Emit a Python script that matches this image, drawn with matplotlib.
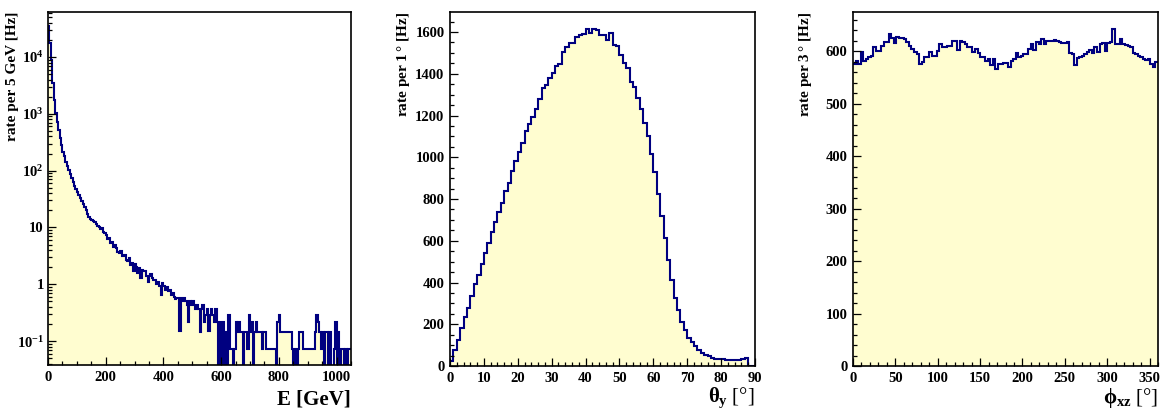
import numpy as np
import matplotlib
matplotlib.use("Agg")
import matplotlib.pyplot as plt
from matplotlib.ticker import MultipleLocator, FixedLocator, FixedFormatter, LogLocator, NullFormatter

plt.rcParams['font.family'] = ['Liberation Serif', 'DejaVu Serif']
plt.rcParams['font.weight'] = 'bold'
plt.rcParams['mathtext.fontset'] = 'custom'
plt.rcParams['mathtext.rm'] = 'Liberation Serif'
plt.rcParams['mathtext.it'] = 'Liberation Serif'
plt.rcParams['mathtext.bf'] = 'Liberation Serif:bold'

# energy spectrum, 5 GeV bins, 0..1050 GeV  (rate in Hz)
e_head = [35500, 17800, 8900, 3550, 1780, 1050, 708, 525, 380, 282,
          214, 178, 141, 120, 102, 89, 74, 63, 54, 47,
          42, 37, 33, 29.5, 25.7, 22.9, 20, 17.4, 15.5, 14.1,
          13.5, 12.9, 12.3, 11.5, 10.7, 10.0, 9.5, 9.8, 8.2, 7.9,
          7.4, 6.3, 6.5, 5.4, 5.6, 4.6, 4.9, 4.4, 3.7, 3.6,
          3.9, 3.2, 3.1, 3.3, 2.7, 2.6, 2.9, 2.2, 2.4, 1.7,
          2.3, 2.0, 1.6, 1.9, 1.3, 1.8, 1.7, 1.7, 1.4, 1.1,
          1.4, 1.5, 1.3, 1.2, 1.2, 1.0, 1.1, 0.95, 0.65, 1.05,
          0.95, 0.8, 0.88, 0.75, 0.8, 0.65, 0.7, 0.6, 0.55, 0.58,
          0.58, 0.15, 0.58, 0.51, 0.58, 0.51, 0.44, 0.22, 0.51, 0.44,
          0.51, 0.44, 0.37, 0.44, 0.37, 0.146, 0.37, 0.44, 0.22, 0.29,
          0.37, 0.15, 0.29, 0.37, 0.29, 0.22, 0.37, 0.22, 0.0, 0.22]
# high-energy tail from 600 GeV, counts of 0.0735 Hz
e_tail_counts = [0, 3, 0, 2, 0, 4, 1, 1, 0, 1,
                 3, 2, 3, 2, 2, 0, 2, 2, 1, 4,
                 2, 3, 0, 2, 3, 2, 2, 2, 1, 2,
                 2, 1, 1, 1, 1, 1, 1, 1, 0, 3,
                 4, 2, 2, 2, 2, 2, 2, 2, 2, 1,
                 0, 1, 0, 1, 2, 2, 2, 1, 1, 1,
                 1, 1, 1, 1, 1, 2, 4, 3, 2, 1,
                 2, 0, 2, 2, 0, 2, 0, 0, 1, 3,
                 0, 2, 0, 1, 1, 0, 1, 0, 1, 1]
e_unit = 0.0735
e_edges = np.arange(0, 1051, 5)

# zenith angle, 1 deg bins
theta_rate = [25, 75, 126, 180, 235, 280, 334, 391, 435, 487,
              541, 591, 642, 692, 736, 781, 839, 877, 934, 981,
              1024, 1070, 1125, 1161, 1193, 1232, 1278, 1331, 1348, 1379,
              1406, 1439, 1446, 1503, 1529, 1546, 1546, 1577, 1586, 1591,
              1615, 1596, 1613, 1608, 1588, 1588, 1561, 1593, 1540, 1534,
              1492, 1454, 1430, 1359, 1337, 1284, 1230, 1165, 1101, 1014,
              931, 826, 720, 612, 506, 414, 326, 267, 211, 171,
              136, 115, 96, 78, 62, 54, 46, 40, 35, 34,
              32, 30, 29, 28, 29, 30, 32, 40, 0, 0]
theta_edges = np.arange(0, 91, 1)

# azimuth, 3 deg bins
phi_rate = [576, 582, 575, 598, 582, 585, 590, 592, 609, 601,
            601, 611, 617, 617, 634, 625, 615, 627, 625, 625,
            623, 617, 611, 604, 598, 595, 576, 579, 590, 589,
            598, 592, 592, 601, 614, 609, 609, 611, 611, 620,
            620, 603, 620, 617, 614, 608, 608, 598, 604, 596,
            589, 589, 582, 585, 573, 585, 566, 576, 576, 577,
            577, 570, 582, 585, 596, 589, 592, 594, 595, 604,
            614, 603, 617, 614, 623, 614, 620, 620, 620, 622,
            620, 617, 615, 615, 617, 596, 595, 573, 587, 590,
            592, 595, 598, 603, 596, 608, 598, 614, 615, 601,
            615, 617, 643, 614, 614, 623, 614, 613, 611, 608,
            596, 594, 592, 590, 585, 584, 585, 576, 570, 579]
phi_edges = np.arange(0, 361, 3)

fill_col = '#fffdd0'
line_col = '#000080'

fig = plt.figure(figsize=(11.68, 4.12), dpi=100)
W, H = 1168, 412
def add_ax(x0, x1, y0, y1):
    return fig.add_axes([x0 / W, 1 - y1 / H, (x1 - x0) / W, (y1 - y0) / H])

ax1 = add_ax(48, 351, 12, 365)
ax2 = add_ax(450, 755, 12, 366)
ax3 = add_ax(853, 1158, 12, 366)

def style(ax):
    for s in ax.spines.values():
        s.set_linewidth(1.2)
    ax.tick_params(which='both', direction='in', top=False, right=False,
                   labelsize=10.5, width=0.9, pad=4)
    ax.tick_params(which='major', length=5.5)
    ax.tick_params(which='minor', length=2.8)
    for lab in ax.get_xticklabels() + ax.get_yticklabels():
        lab.set_fontweight('bold')

# --- energy
e_rate = np.array(e_head + [c * e_unit for c in e_tail_counts])
floor = 1e-3
e_draw = np.where(e_rate > 0, e_rate, floor)
ax1.set_yscale('log')
ax1.stairs(e_draw, e_edges, fill=True, color=fill_col, baseline=floor)
ax1.stairs(e_draw, e_edges, color=line_col, linewidth=1.5, baseline=None)
ax1.set_xlim(0, 1050)
ax1.set_ylim(0.038, 6.2e4)
ax1.xaxis.set_major_locator(MultipleLocator(200))
ax1.xaxis.set_minor_locator(MultipleLocator(50))
ax1.yaxis.set_major_locator(FixedLocator([0.1, 1, 10, 100, 1000, 10000]))
ax1.yaxis.set_major_formatter(FixedFormatter([r'$\mathbf{10^{-1}}$', '1', '10',
                                              r'$\mathbf{10^{2}}$', r'$\mathbf{10^{3}}$',
                                              r'$\mathbf{10^{4}}$']))
ax1.yaxis.set_minor_locator(LogLocator(base=10, subs=np.arange(2, 10), numticks=20))
ax1.yaxis.set_minor_formatter(NullFormatter())
style(ax1)
ax1.tick_params(axis='y', pad=3)
ax1.text(-0.118, 1.0, 'rate per 5 GeV [Hz]', rotation=90, ha='center', va='top',
         transform=ax1.transAxes, fontsize=11, fontweight='bold')
ax1.text(1.0, -0.112, 'E [GeV]', ha='right', va='baseline', transform=ax1.transAxes,
         fontsize=15, fontweight='bold')

# --- theta
ax2.stairs(theta_rate, theta_edges, fill=True, color=fill_col)
ax2.stairs(theta_rate, theta_edges, color=line_col, linewidth=1.5, baseline=None)
ax2.set_xlim(0, 90)
ax2.set_ylim(0, 1696)
ax2.xaxis.set_major_locator(MultipleLocator(10))
ax2.xaxis.set_minor_locator(MultipleLocator(2))
ax2.yaxis.set_major_locator(MultipleLocator(200))
ax2.yaxis.set_minor_locator(MultipleLocator(50))
style(ax2)
ax2.text(-0.154, 1.0, 'rate per 1$\\,$° [Hz]', rotation=90, ha='center', va='top',
         transform=ax2.transAxes, fontsize=11, fontweight='bold')
ax2.text(1.0, -0.102, r'$\theta_{\mathbf{y}}$ [°]', ha='right', va='baseline',
         transform=ax2.transAxes, fontsize=15, fontweight='normal')

# --- phi
ax3.stairs(phi_rate, phi_edges, fill=True, color=fill_col)
ax3.stairs(phi_rate, phi_edges, color=line_col, linewidth=1.5, baseline=None)
ax3.set_xlim(0, 360)
ax3.set_ylim(0, 675)
ax3.xaxis.set_major_locator(MultipleLocator(50))
ax3.xaxis.set_minor_locator(MultipleLocator(10))
ax3.yaxis.set_major_locator(MultipleLocator(100))
ax3.yaxis.set_minor_locator(MultipleLocator(20))
style(ax3)
ax3.text(-0.157, 1.0, 'rate per 3$\\,$° [Hz]', rotation=90, ha='center', va='top',
         transform=ax3.transAxes, fontsize=11, fontweight='bold')
ax3.text(1.0, -0.104, r'$\phi_{\mathbf{xz}}$ [°]', ha='right', va='baseline',
         transform=ax3.transAxes, fontsize=15, fontweight='normal')

fig.savefig('out.png', dpi=100)
